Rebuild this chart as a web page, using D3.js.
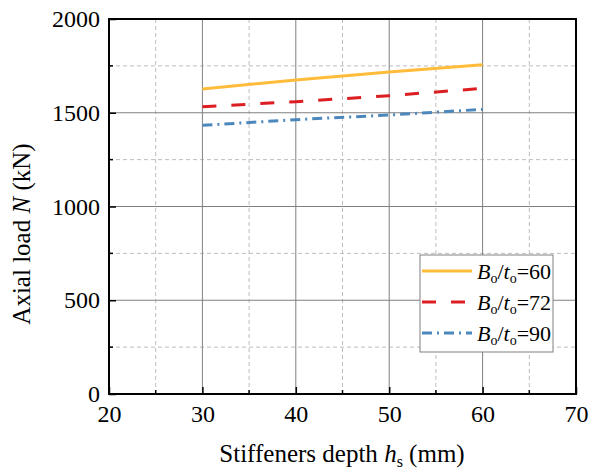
<!DOCTYPE html>
<html><head><meta charset="utf-8">
<script src="https://cdn.jsdelivr.net/npm/d3@7"></script>
<style>body{margin:0;background:#fff}svg{display:block}text{font-family:"Liberation Serif","Times New Roman",serif}</style>
</head><body>
<svg id="c" width="590" height="470"></svg>
<script>
const depths = [30, 40, 50, 60];
const s60 = [1627, 1675, 1717, 1756];
const s72 = [1532, 1559, 1591, 1630];
const s90 = [1433, 1463, 1488, 1518];
const seriesNames = ["60", "72", "90"];
const xTicks = [20, 30, 40, 50, 60, 70];
const yTicks = [0, 500, 1000, 1500, 2000];
const xMinor = [25, 35, 45, 55, 65];
const yMinor = [250, 750, 1250, 1750];

const FONT = '"Liberation Serif","Times New Roman",serif';
const svg = d3.select("#c");
const L = 109, R = 576, T = 19, B = 394;
const x = d3.scaleLinear().domain([20, 70]).range([L, R]);
const y = d3.scaleLinear().domain([0, 2000]).range([B, T]);

// minor grid
const g = svg.append("g");
g.selectAll(".mx").data(xMinor).enter().append("line")
  .attr("x1", d => x(d)).attr("x2", d => x(d)).attr("y1", T).attr("y2", B)
  .attr("stroke", "#bdbdbd").attr("stroke-width", 1).attr("stroke-dasharray", "4,3");
g.selectAll(".my").data(yMinor).enter().append("line")
  .attr("y1", d => y(d)).attr("y2", d => y(d)).attr("x1", L).attr("x2", R)
  .attr("stroke", "#bdbdbd").attr("stroke-width", 1).attr("stroke-dasharray", "4,3");
// major grid
g.selectAll(".Mx").data(xTicks.slice(1, -1)).enter().append("line")
  .attr("x1", d => x(d)).attr("x2", d => x(d)).attr("y1", T).attr("y2", B)
  .attr("stroke", "#808080").attr("stroke-width", 1);
g.selectAll(".My").data(yTicks.slice(1, -1)).enter().append("line")
  .attr("y1", d => y(d)).attr("y2", d => y(d)).attr("x1", L).attr("x2", R)
  .attr("stroke", "#808080").attr("stroke-width", 1);

// series
const series = [
  {vals: s60, color: "#FFBC3A", dash: null},
  {vals: s72, color: "#DC1E22", dash: "14,15"},
  {vals: s90, color: "#4C88BC", dash: "10,5,2,5"}
];
const line = d3.line().x(d => x(d[0])).y(d => y(d[1]));
series.forEach(s => {
  svg.append("path").datum(depths.map((d, i) => [d, s.vals[i]]))
    .attr("d", line).attr("fill", "none").attr("stroke", s.color)
    .attr("stroke-width", 3).attr("stroke-dasharray", s.dash);
});

// axes
const ax = svg.append("g").attr("transform", `translate(0,${B})`)
  .call(d3.axisBottom(x).tickValues(xTicks).tickSize(-7).tickPadding(11).tickFormat(d3.format("d")));
const ay = svg.append("g").attr("transform", `translate(${L},0)`)
  .call(d3.axisLeft(y).tickValues(yTicks).tickSize(-7).tickPadding(9).tickFormat(d3.format("d")));
[ax, ay].forEach(a => {
  a.attr("font-family", FONT).attr("font-size", 24);
  a.select(".domain").remove();
  a.selectAll("line").attr("stroke", "#000").attr("stroke-width", 1.5);
  a.selectAll("text").attr("fill", "#000");
});
ax.selectAll("text").attr("dy", "0.71em");
// minor ticks
svg.selectAll(".mtx").data(xMinor).enter().append("line")
  .attr("x1", d => x(d)).attr("x2", d => x(d)).attr("y1", B).attr("y2", B - 4)
  .attr("stroke", "#000").attr("stroke-width", 1.5);
svg.selectAll(".mty").data(yMinor).enter().append("line")
  .attr("y1", d => y(d)).attr("y2", d => y(d)).attr("x1", L).attr("x2", L + 4)
  .attr("stroke", "#000").attr("stroke-width", 1.5);
// frame
svg.append("rect").attr("x", L).attr("y", T).attr("width", R - L).attr("height", B - T)
  .attr("fill", "none").attr("stroke", "#000").attr("stroke-width", 2);

// axis labels
const xl = svg.append("text").attr("x", 342).attr("y", 462).attr("text-anchor", "middle")
  .attr("font-size", 25).attr("fill", "#000");
xl.append("tspan").text("Stiffeners depth ");
xl.append("tspan").attr("font-style", "italic").text("h");
xl.append("tspan").attr("font-size", 16).attr("dy", 5).text("s");
xl.append("tspan").attr("dy", -5).text(" (mm)");

const yl = svg.append("text").attr("transform", "translate(30,234) rotate(-90)")
  .attr("text-anchor", "middle").attr("font-size", 25).attr("fill", "#000");
yl.append("tspan").text("Axial load ");
yl.append("tspan").attr("font-style", "italic").text("N");
yl.append("tspan").text(" (kN)");

// legend
const lg = svg.append("g");
lg.append("rect").attr("x", 420).attr("y", 255).attr("width", 133).attr("height", 97)
  .attr("fill", "#fff").attr("stroke", "#808080").attr("stroke-width", 1);
series.forEach((s, i) => {
  const yy = 271 + i * 31;
  lg.append("line").attr("x1", 422).attr("x2", 472).attr("y1", yy).attr("y2", yy)
    .attr("stroke", s.color).attr("stroke-width", 3).attr("stroke-dasharray", s.dash);
  const t = lg.append("text").attr("x", 477).attr("y", yy + 8).attr("font-size", 22).attr("fill", "#000");
  t.append("tspan").attr("font-style", "italic").text("B");
  t.append("tspan").attr("font-size", 14).attr("dy", 4).text("o");
  t.append("tspan").attr("dy", -4).text("/");
  t.append("tspan").attr("font-style", "italic").text("t");
  t.append("tspan").attr("font-size", 14).attr("dy", 4).text("o");
  t.append("tspan").attr("dy", -4).text("=" + seriesNames[i]);
});
</script>
</body></html>
